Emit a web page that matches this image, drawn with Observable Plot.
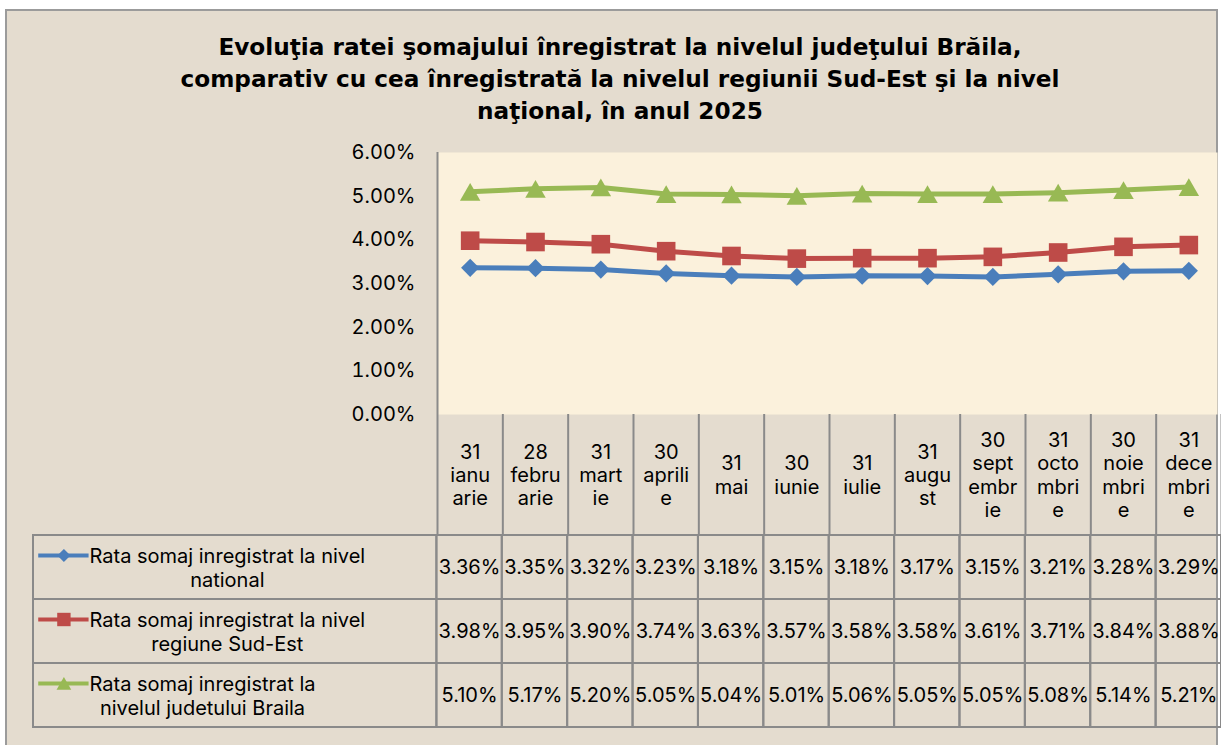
<!DOCTYPE html>
<html><head><meta charset="utf-8">
<script src="https://cdn.jsdelivr.net/npm/d3@7"></script>
<script src="https://cdn.jsdelivr.net/npm/@observablehq/plot@0.6"></script>
<style>
html,body{margin:0;padding:0;background:#fff;}
#wrap{position:relative;width:1221px;height:745px;overflow:hidden;font-family:Inter,"Noto Sans",sans-serif;}
#frame{position:absolute;left:5px;top:9px;width:1213px;height:760px;background:#e4dccf;border:2px solid #9b9b9b;box-sizing:border-box;}
#title{position:absolute;left:0;width:1240px;top:31px;text-align:center;font-family:"DejaVu Sans",sans-serif;font-weight:bold;font-size:23.2px;line-height:32px;color:#000;}
#chart{position:absolute;left:0;top:130px;}
#table{position:absolute;left:0;top:534px;}
svg{overflow:visible;}
</style></head>
<body>
<div id="wrap">
  <div id="frame"></div>
  <div id="title">Evoluţia ratei şomajului înregistrat la nivelul judeţului Brăila,<br>comparativ cu cea înregistrată la nivelul regiunii Sud-Est şi la nivel<br>naţional, în anul 2025</div>
  <div id="chart"></div>
  <div id="table"></div>
</div>
<script>
// ---- data ----
const categories = [
  "31\nianu\narie", "28\nfebru\narie", "31\nmart\nie", "30\naprili\ne",
  "31\nmai", "30\niunie", "31\niulie", "31\naugu\nst",
  "30\nsept\nembr\nie", "31\nocto\nmbri\ne", "30\nnoie\nmbri\ne", "31\ndece\nmbri\ne"
];
const national = [3.36, 3.35, 3.32, 3.23, 3.18, 3.15, 3.18, 3.17, 3.15, 3.21, 3.28, 3.29];
const sudEst   = [3.98, 3.95, 3.90, 3.74, 3.63, 3.57, 3.58, 3.58, 3.61, 3.71, 3.84, 3.88];
const braila   = [5.10, 5.17, 5.20, 5.05, 5.04, 5.01, 5.06, 5.05, 5.05, 5.08, 5.14, 5.21];
const seriesLabels = [
  "Rata somaj inregistrat la nivel\nnational",
  "Rata somaj inregistrat la nivel\nregiune Sud-Est",
  "Rata somaj inregistrat la\nnivelul judetului Braila"
];
const seriesColors = ["#4a7ebb", "#be4b48", "#98b954"];
const seriesSymbols = ["diamond2", "square", "triangle"];
const yTicks = [0, 1, 2, 3, 4, 5, 6];

// ---- build ----
const FONT = 'Inter, "Noto Sans", sans-serif';
const FS = 20;
const series = [national, sudEst, braila].map((values, k) => ({
  key: "s" + k, label: seriesLabels[k], color: seriesColors[k], symbol: seriesSymbols[k], values
}));
const points = series.flatMap(s => s.values.map((v, i) => ({key: s.key, i, v})));
const idx = d3.range(categories.length);
const GRID = "#8a8a8a";

const markerR = {diamond2: 8.2, square: 10.5, triangle: 7.6};
const markerDy = {diamond2: 0, square: 0, triangle: 3};

const chart = Plot.plot({
  width: 1221, height: 404,
  marginLeft: 437, marginRight: 0, marginTop: 22, marginBottom: 120,
  style: {background: "transparent", fontFamily: FONT, color: "#000"},
  x: {domain: [0, categories.length], axis: null},
  y: {domain: [0, 6], axis: null},
  marks: [
    Plot.frame({fill: "#fbf1dc", stroke: null, insetRight: 4}),
    Plot.axisY({ticks: yTicks, tickFormat: d => d.toFixed(2) + "%", tickSize: 0, tickPadding: 22, fontSize: FS, label: null}),
    Plot.axisX({ticks: d3.range(categories.length + 1), tickSize: 120, tickFormat: () => "", stroke: GRID, strokeWidth: 2, label: null}),
    Plot.ruleX([0], {stroke: GRID, strokeWidth: 2}),
    Plot.text(idx, {x: i => i + 0.5, text: i => categories[i], frameAnchor: "bottom", dy: 60,
      lineAnchor: "middle", lineHeight: 1.17, fontSize: FS}),
    ...series.map(s => Plot.line(s.values.map((v, i) => ({i, v})), {x: d => d.i + 0.5, y: "v", stroke: s.color, strokeWidth: 5})),
    ...series.map(s => Plot.dot(s.values.map((v, i) => ({i, v})), {x: d => d.i + 0.5, y: "v", symbol: () => s.symbol,
      fill: s.color, stroke: "none", r: markerR[s.symbol], dy: markerDy[s.symbol]}))
  ]
});
document.getElementById("chart").append(chart);

// table
const canvas = document.createElement("canvas").getContext("2d");
canvas.font = FS + "px " + FONT;
const nCol = categories.length;
const LEG = (436.4 - 33) / ((1221 - 436.4) / nCol); // legend column width in column units
const table = Plot.plot({
  width: 1221, height: 211,
  marginLeft: 33, marginRight: 0, marginTop: 0, marginBottom: 17,
  style: {background: "transparent", fontFamily: FONT, color: "#000"},
  x: {domain: [-LEG, nCol], axis: null},
  y: {domain: series.map(s => s.key), axis: null, padding: 0},
  marks: [
    Plot.barX(points, {x1: d => d.i, x2: d => d.i + 1, y: "key", fill: "none", stroke: GRID, strokeWidth: 2}),
    Plot.barX(series, {x1: () => -LEG, x2: () => 0, y: "key", fill: "none", stroke: GRID, strokeWidth: 2}),
    Plot.text(points, {x: d => d.i + 0.5, y: "key", text: d => d.v.toFixed(2) + "%", fontSize: FS}),
    Plot.ruleY(series, {y: "key", x1: () => -LEG + 0.08, x2: () => -LEG + 0.85, stroke: s => s.color, strokeWidth: 4, dy: -12}),
    ...series.map(s => Plot.dot([s], {y: "key", x: () => -LEG + 0.465, symbol: () => s.symbol, fill: s.color, stroke: "none",
      r: markerR[s.symbol] * 0.72, dy: -12 + markerDy[s.symbol] * 0.7})),
    ...series.map(s => {
      const w = d3.max(s.label.split("\n"), l => canvas.measureText(l).width);
      return Plot.text([s], {y: "key", frameAnchor: "left", dx: 56 + w / 2, text: "label",
        lineAnchor: "middle", lineHeight: 1.2, fontSize: FS, textAnchor: "middle"});
    })
  ]
});
document.getElementById("table").append(table);
</script>
</body></html>
